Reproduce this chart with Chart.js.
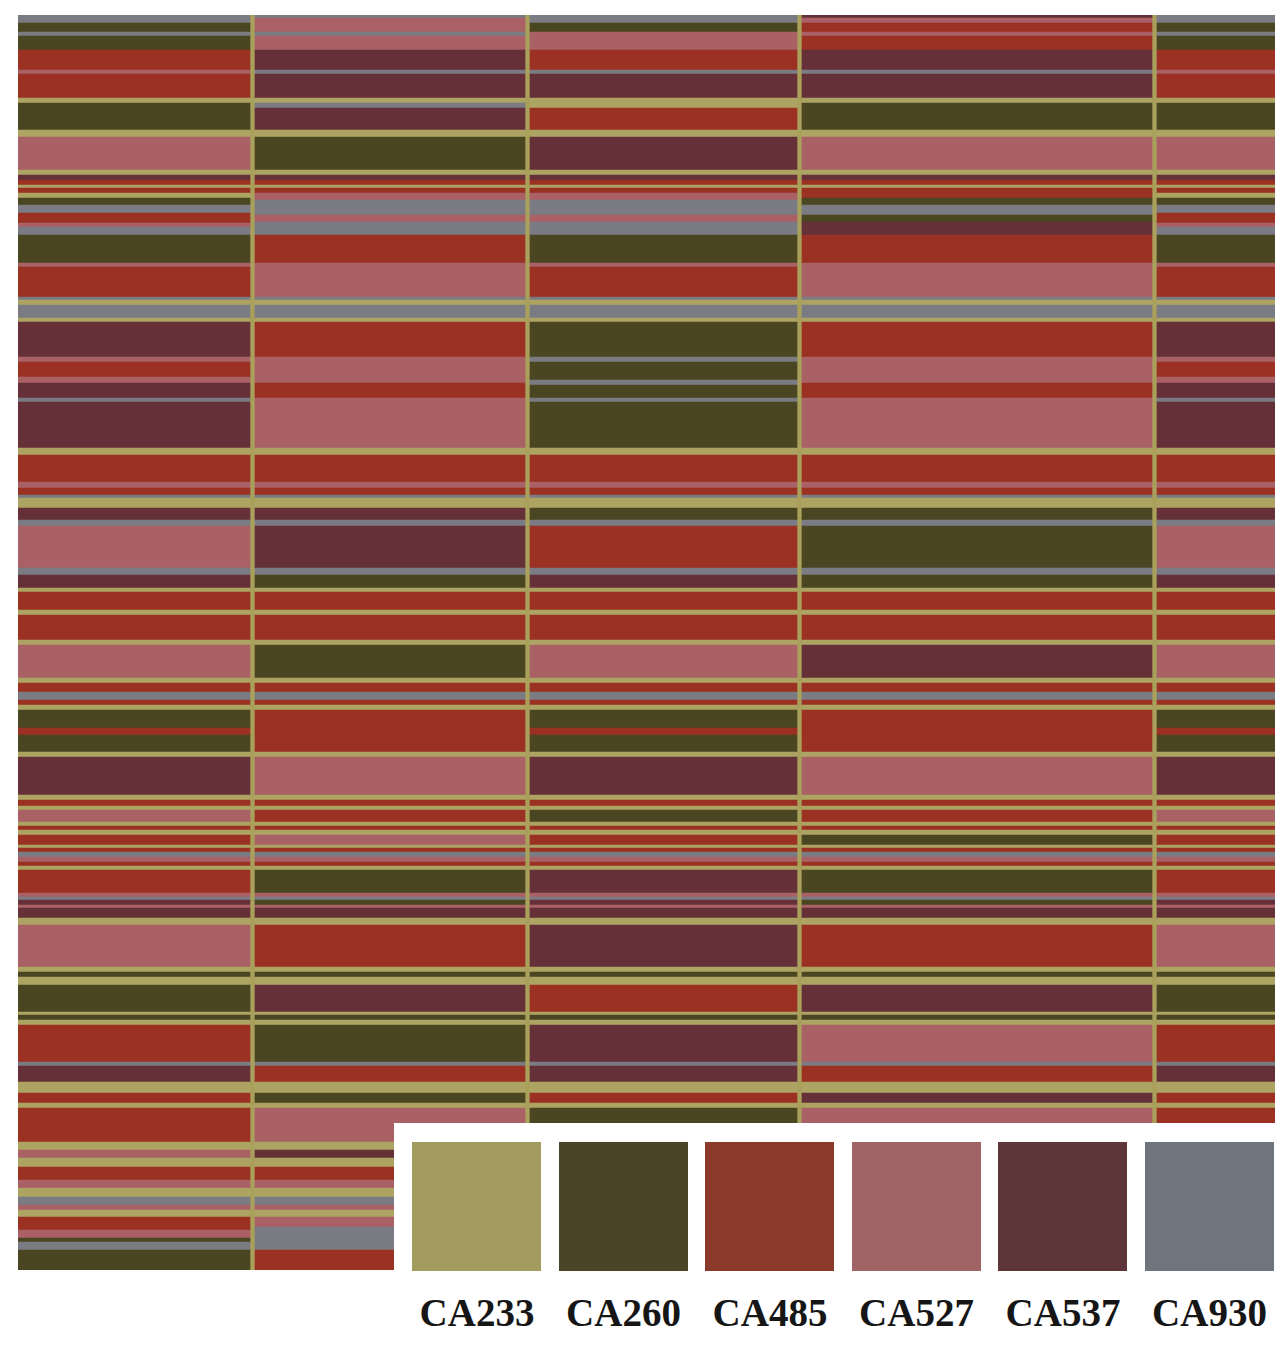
<!DOCTYPE html>
<html>
<head>
<meta charset="utf-8">
<script src="https://cdn.jsdelivr.net/npm/chart.js@4.4.1/dist/chart.umd.min.js"></script>
<style>
  html, body { margin: 0; padding: 0; background: #ffffff; }
  #wrap { position: relative; width: 1284px; height: 1350px; overflow: hidden; }
  #wrap canvas { position: absolute; left: 0; top: 0; }
  #legendBox { position: absolute; left: 394px; top: 1123px; width: 890px; height: 227px; background: #ffffff; }
  .sw { position: absolute; top: 19px; width: 129px; height: 129px; }
  .lb { position: absolute; top: 168px; width: 146px; margin-left: -8px; text-align: center;
        font-family: "Liberation Serif", "Times New Roman", serif; font-weight: bold; font-size: 39px; line-height: 44px; color: #161616; }
</style>
</head>
<body>
<div id="wrap">
  <canvas id="c"></canvas>
  <div id="legendBox"></div>
</div>
<script>
// ---- DATA ----
// colour codes: T=CA233, O=CA260, R=CA485, P=CA527, M=CA537, G=CA930, '-' = hidden (under legend)
const legendNames = ["CA233", "CA260", "CA485", "CA527", "CA537", "CA930"];
const legendCodes = ["T", "O", "R", "P", "M", "G"];
const swatchColors = ["#a19b5e", "#4a4526", "#8b3a2c", "#a06466", "#5e3538", "#6f757c"];
const stripeColors = { T: "#ada463", O: "#4b4622", R: "#9a3122", P: "#a96166", M: "#663038", G: "#7a7b83" };

// column extents across the rug (left, right)
const columnStarts = [18, 255, 530, 802, 1157];
const columnEnds   = [250, 525, 797, 1152, 1275];

// top edge of each horizontal band; last band ends at rowEnd
const rowStarts = [15,18,23,32,36,50,70,74,98,103,
  108,130,137,170,175,180,185,188,193,198,
  200,205,213,215,222,223,227,235,263,267,
  297,300,305,318,322,357,362,377,380,383,
  385,398,402,448,455,482,488,495,498,508,
  520,526,568,575,588,592,610,615,640,645,
  678,683,692,700,705,710,728,735,752,757,
  795,800,806,810,822,826,830,835,845,848,
  852,857,862,866,870,893,897,900,905,908,
  918,925,967,972,977,985,1012,1015,1020,1025,
  1062,1066,1082,1093,1103,1108,1142,1150,1158,1167,
  1180,1188,1197,1205,1210,1217,1227,1230,1238,1242,
  1250];
const rowEnd = 1270;

const col1 = "GGOGORPRTO OTPTMRTRTO OGRRRPGOPR GTGTMPRPPM MGMTRPRGTM GPGMTRTRTP TRGRTOROTM TRTPTRTRTR GPRTRPGMPM TPTOTOTOTR GMTRTRTPTR PTGPTRRPOGO";
const col2 = "GPPGPMGMTG MTOTMRTRPP GGGPGGGRPP GTGTRPPPPR RPPTRPRGTM GMGOTRTRTO TRGRTRRRTP TRTRTRTPTR GPRTOPGOPM TRTOTMTOTO GRTOTPTMTR PTGPTPGGGGR";
const col3 = "GGOPPRGMTT RTMTMRTRPP GGGPGGGOPR GTGTOGOOGG OGOTRPRGTO GRGMTRTRTP TRGRTOROTM TRTOTRTRTR GPRTMPGMPM TMTOTRTOTM GMTRTO---- -----------";
const col4 = "MPRPRMGMTO OTPTMRTRRO OGGOMMMRPP GTGTRPPPPR RPPTRPRGTO GOGOTRTRTM TRGRTRRRTP TRTRTRTOTR GPRTOPGOPM TRTOTMTOTP GRTMTP---- -----------";
const col5 = col1; // outer border column repeats the first column

// ---- BUILD ----
const columnCodes = [col1, col2, col3, col4, col5].map(s => s.replace(/\s+/g, ""));
const datasets = columnCodes.map((codes, k) => {
  const center = (columnStarts[k] + columnEnds[k]) / 2;
  const data = [], colors = [];
  rowStarts.forEach((y0, i) => {
    const code = codes[i];
    if (!code || code === "-") return;
    const y1 = i + 1 < rowStarts.length ? rowStarts[i + 1] : rowEnd;
    data.push({ x: center, y: [y0, y1] });
    colors.push(stripeColors[code]);
  });
  return {
    label: "column " + (k + 1),
    data,
    backgroundColor: colors,
    borderWidth: 0,
    grouped: false,
    barThickness: columnEnds[k] - columnStarts[k]
  };
});

const groundPlugin = {
  id: "ground",
  beforeDatasetsDraw(chart) {
    const { ctx, chartArea: a } = chart;
    ctx.save();
    ctx.fillStyle = "#a9a05c";
    ctx.fillRect(a.left, a.top, a.right - a.left, a.bottom - a.top);
    ctx.restore();
  }
};

const canvas = document.getElementById("c");
canvas.style.width = "1284px";
canvas.style.height = "1350px";
new Chart(canvas, {
  type: "bar",
  data: { datasets },
  options: {
    responsive: false,
    animation: false,
    layout: { padding: { left: 18, top: 15, right: 9, bottom: 80 } },
    scales: {
      x: { type: "linear", offset: false, min: columnStarts[0], max: columnEnds[columnEnds.length - 1], display: false },
      y: { type: "linear", min: rowStarts[0], max: rowEnd, reverse: true, display: false }
    },
    plugins: { legend: { display: false }, tooltip: { enabled: false } }
  },
  plugins: [groundPlugin]
});

// ---- LEGEND (swatches + codes) ----
const box = document.getElementById("legendBox");
legendNames.forEach((name, i) => {
  const left = 18 + i * 146.5;
  const sw = document.createElement("div");
  sw.className = "sw";
  sw.style.left = left + "px";
  sw.style.background = swatchColors[i];
  box.appendChild(sw);
  const lb = document.createElement("div");
  lb.className = "lb";
  lb.style.left = left + "px";
  lb.textContent = name;
  box.appendChild(lb);
});
</script>
</body>
</html>
